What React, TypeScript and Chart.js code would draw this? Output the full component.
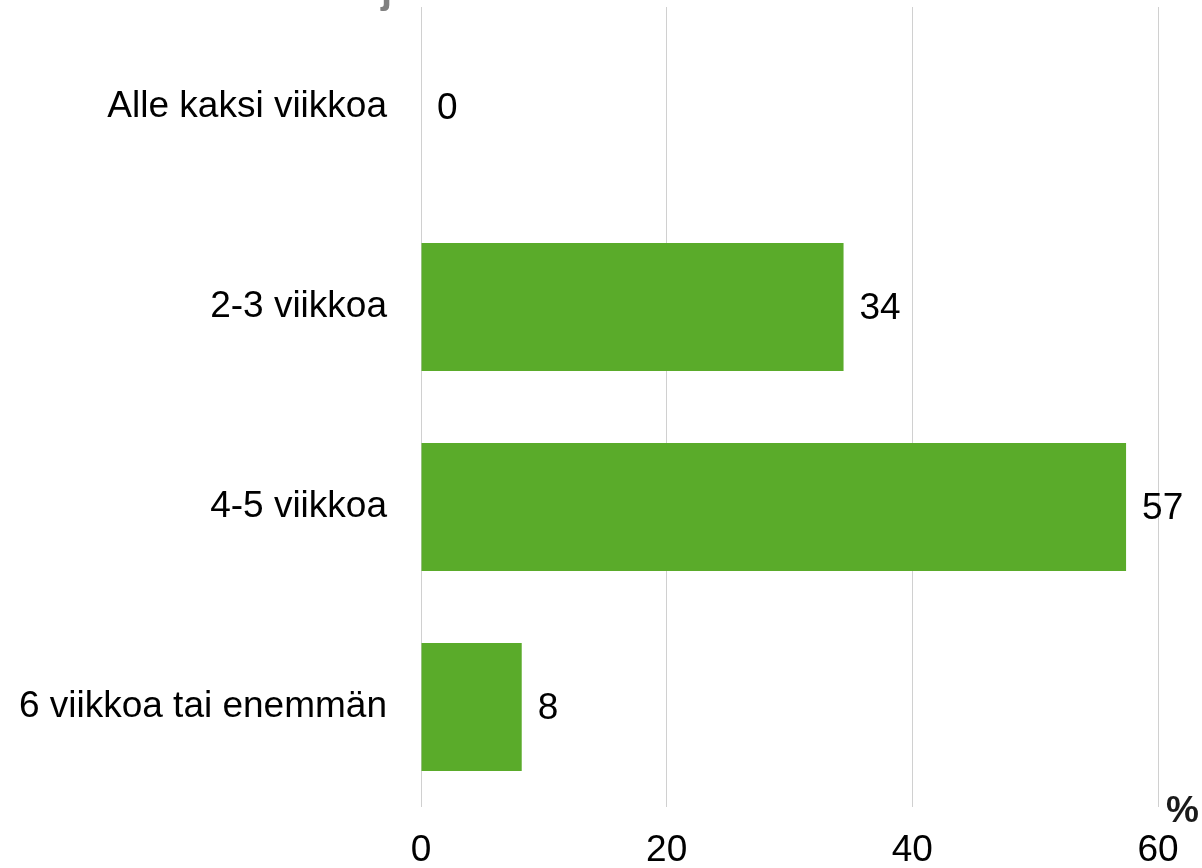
import React, { useEffect, useRef } from "react";
import { Chart, registerables } from "chart.js";

Chart.register(...registerables);

const categories = ["Alle kaksi viikkoa", "2-3 viikkoa", "4-5 viikkoa", "6 viikkoa tai enemmän"];
const values = [0, 34.4, 57.4, 8.2];
const valueLabels = ["0", "34", "57", "8"];
const xTicks = [0, 20, 40, 60];
const unitLabel = "%";

const FONT = "'Liberation Sans', Arial, sans-serif";
const BAR_COLOR = "#5aab2a";

export default function App() {
  const ref = useRef<HTMLCanvasElement | null>(null);

  useEffect(() => {
    if (!ref.current) return;
    const labelPlugin = {
      id: "extras",
      afterDatasetsDraw(chart: any) {
        const ctx = chart.ctx;
        const meta = chart.getDatasetMeta(0);
        ctx.save();
        ctx.font = `37px ${FONT}`;
        ctx.fillStyle = "#000";
        ctx.textAlign = "left";
        ctx.textBaseline = "middle";
        meta.data.forEach((bar: any, i: number) => {
          ctx.fillText(valueLabels[i], bar.x + 16, bar.y + 2);
        });
        // unit label
        const xs = chart.scales.x;
        ctx.font = `bold 37px ${FONT}`;
        ctx.fillStyle = "#1a1a1a";
        ctx.textAlign = "left";
        ctx.textBaseline = "alphabetic";
        ctx.fillText(unitLabel, xs.right + 8, chart.chartArea.bottom + 15);
        // clipped title fragment
        ctx.font = `bold 40px ${FONT}`;
        ctx.fillStyle = "#808080";
        ctx.fillText("j", 381, 3);
        ctx.restore();
      },
    };

    const chart = new Chart(ref.current, {
      type: "bar",
      data: {
        labels: categories,
        datasets: [
          {
            data: values,
            backgroundColor: BAR_COLOR,
            borderWidth: 0,
            barPercentage: 0.64,
            categoryPercentage: 1,
          },
        ],
      },
      options: {
        indexAxis: "y",
        animation: false,
        responsive: false,
        maintainAspectRatio: false,
        layout: { padding: { top: 7, right: 44, left: 0, bottom: 0 } },
        plugins: {
          legend: { display: false },
          tooltip: { enabled: false },
          title: { display: false },
        },
        scales: {
          x: {
            min: 0,
            max: 60,
            afterBuildTicks(scale: any) {
              scale.ticks = xTicks.map((v) => ({ value: v }));
            },
            afterFit(scale: any) {
              scale.height = 61;
              scale.paddingLeft = 0;
              scale.paddingRight = 0;
            },
            grid: { color: "#d0d0d0", lineWidth: 1, drawTicks: false },
            border: { display: false },
            ticks: {
              color: "#000",
              font: { family: FONT, size: 37 },
              padding: 22,
              maxRotation: 0,
            },
          },
          y: {
            afterFit(scale: any) {
              scale.width = 421;
              scale.paddingTop = 0;
              scale.paddingBottom = 0;
            },
            grid: { display: false, drawTicks: false },
            border: { display: false },
            ticks: {
              color: "#000",
              font: { family: FONT, size: 37 },
              padding: 34,
            },
          },
        },
      },
      plugins: [labelPlugin],
    });
    return () => chart.destroy();
  }, []);

  return (
    <div style={{ position: "fixed", left: 0, top: 0, width: 1202, height: 868, background: "#fff" }}>
      <canvas ref={ref} width={1202} height={868} style={{ display: "block" }} />
    </div>
  );
}
